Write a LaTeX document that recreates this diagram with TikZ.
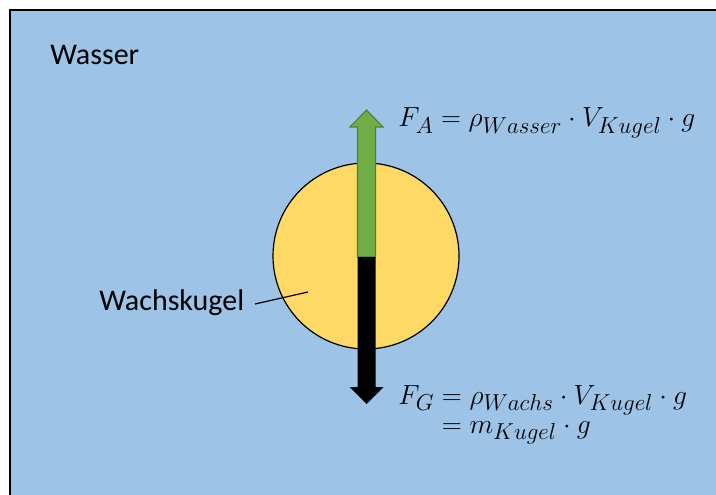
\documentclass[tikz,border=0pt]{standalone}
\usepackage{amsmath}
\usepackage{fontspec}
\setmainfont{Carlito}
\DeclareMathSizes{22}{22}{16.2}{12}
\definecolor{water}{HTML}{9DC3E6}
\definecolor{wax}{HTML}{FFD966}
\definecolor{agreen}{HTML}{70AD47}
\definecolor{agreendark}{HTML}{507E32}
\begin{document}
\begin{tikzpicture}[x=0.75pt,y=-0.75pt,
  lbl/.style={inner sep=0pt,font=\fontsize{22.5}{26}\selectfont},
  eq/.style={inner sep=0pt,font=\fontsize{22}{26}\selectfont}]
\useasboundingbox (0,0) rectangle (716,495);
\fill[white] (0,0) rectangle (716,495);
\draw[line width=1.2pt,fill=water] (10,10) rectangle (730,510);
\node[lbl,anchor=base west] (wasser) at (50,65) {Wasser};
\node[draw=black,line width=0.9pt,fill=wax,circle,minimum size=186*0.75pt,inner sep=0pt] (ball) at (366,256) {};
% green arrow (buoyancy)
\draw[agreendark,line width=0.8pt,fill=agreen]
  (357.5,257) -- (357.5,127) -- (350,127) -- (366.5,110) -- (383,127) -- (375.5,127) -- (375.5,257) -- cycle;
% black arrow (weight)
\fill[black]
  (357.5,257) -- (357.5,387) -- (349.5,387) -- (366.5,404) -- (383.5,387) -- (375.5,387) -- (375.5,257) -- cycle;
\node[lbl,anchor=base west] (wachs) at (99,310) {Wachskugel};
\coordinate (lineend) at (308,292);
\draw[line width=0.9pt] (255,304) -- (lineend);
\node[eq,anchor=base west] (fa) at (398,127) {$F_A = \rho_{Wasser}\cdot V_{Kugel}\cdot g$};
\node[eq,anchor=base west] (fg) at (398,404) {$F_G = \rho_{Wachs}\cdot V_{Kugel}\cdot g$};
\node[eq,anchor=base west] (fg2) at (398,433) {$\phantom{F_G} = m_{Kugel}\cdot g$};
\end{tikzpicture}
\end{document}
